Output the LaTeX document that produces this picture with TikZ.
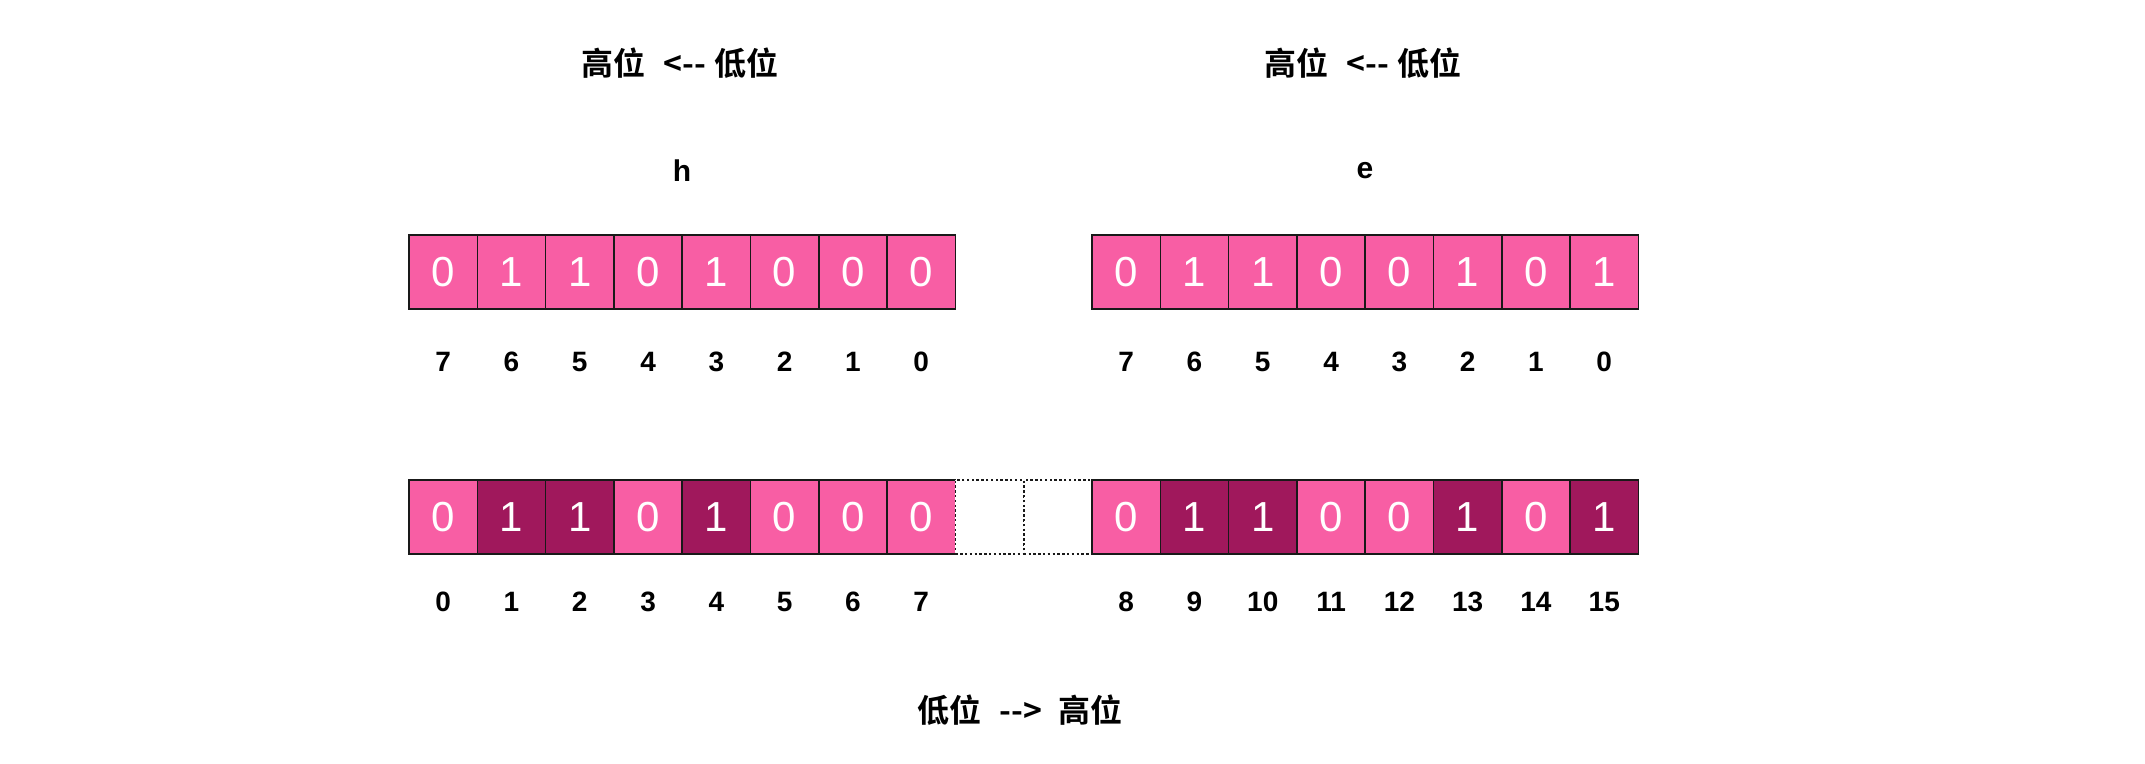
\documentclass[tikz,border=0pt]{standalone}
\usepackage{fontspec}
\setmainfont{Liberation Sans}
\newfontfamily\cjk{Noto Sans CJK SC}[BoldFont={* Bold}]
\definecolor{pl}{HTML}{F85EA4}
\definecolor{pd}{HTML}{A0185C}
\begin{document}
\begin{tikzpicture}[x=0.5pt,y=-0.5pt,
  cell/.style={draw=black!90, line width=0.8pt, minimum width=34.15pt, minimum height=37pt, inner sep=0pt, text=white, font=\fontsize{21}{21}\selectfont, fill=pl},
  darkcell/.style={cell, fill=pd},
  emptycell/.style={cell, fill=white, dash pattern=on 1.2pt off 1.2pt},
  idx/.style={font=\fontsize{14}{14}\selectfont\bfseries, inner sep=0pt},
  ttl/.style={font=\cjk\bfseries\fontsize{16}{16}\selectfont, inner sep=0pt}]
\useasboundingbox (0,0) rectangle (2145,764);
% titles
\node[ttl] (tl) at (680,63) {高位\hspace{9pt}<--\hspace{4pt}低位};
\node[ttl] (tr) at (1363,63) {高位\hspace{9pt}<--\hspace{4pt}低位};
\node[idx, font=\fontsize{15}{15}\selectfont\bfseries] (h) at (682,171) {h};
\node[idx, font=\fontsize{15}{15}\selectfont\bfseries] (e) at (1365,171) {e};
% top left
\foreach \v [count=\i from 0] in {0,1,1,0,1,0,0,0} {
  \node[cell] (a\i) at ({409+68.3*(\i+0.5)},272) {\v};
  \pgfmathtruncatemacro\n{7-\i}
  \node[idx] (ai\i) at ({409+68.3*(\i+0.5)},362) {\n};
}
% top right
\foreach \v [count=\i from 0] in {0,1,1,0,0,1,0,1} {
  \node[cell] (b\i) at ({409+68.3*(\i+10.5)},272) {\v};
  \pgfmathtruncatemacro\n{7-\i}
  \node[idx] (bi\i) at ({409+68.3*(\i+10.5)},362) {\n};
}
% bottom row
\foreach \v [count=\i from 0] in {0,1,1,0,1,0,0,0} {
  \ifnum\v=1 \def\st{darkcell}\else \def\st{cell}\fi
  \node[\st] (c\i) at ({409+68.3*(\i+0.5)},517) {\v};
  \node[idx] (ci\i) at ({409+68.3*(\i+0.5)},602) {\i};
}
\node[emptycell] (g0) at ({409+68.3*8.5},517) {};
\node[emptycell] (g1) at ({409+68.3*9.5},517) {};
\foreach \v [count=\i from 0] in {0,1,1,0,0,1,0,1} {
  \ifnum\v=1 \def\st{darkcell}\else \def\st{cell}\fi
  \node[\st] (d\i) at ({409+68.3*(\i+10.5)},517) {\v};
  \pgfmathtruncatemacro\n{8+\i}
  \node[idx] (di\i) at ({409+68.3*(\i+10.5)},602) {\n};
}
\node[ttl] (bt) at (1020,710) {低位\hspace{9pt}-->\hspace{8pt}高位};
\end{tikzpicture}
\end{document}
